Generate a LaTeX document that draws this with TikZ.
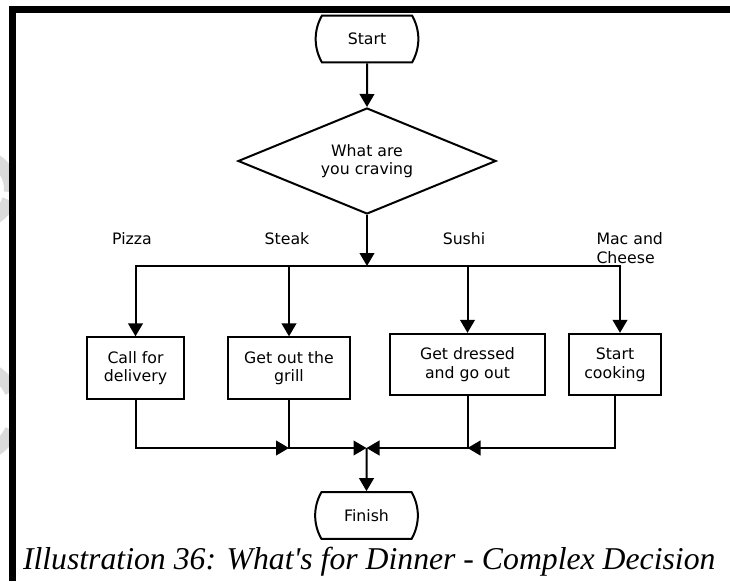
\documentclass[tikz,border=0pt]{standalone}
\usepackage{fontspec}
\setmainfont{DejaVu Sans}
\newfontfamily\captionserif{Liberation Serif}
\usetikzlibrary{arrows.meta,shapes.geometric,shapes.misc}

\begin{document}
\begin{tikzpicture}[x=0.75pt,y=-0.75pt,
  line width=1.5pt,
  flow/.style={-{Triangle[length=9.75pt,width=11pt]}},
  lbl/.style={font=\fontsize{11.8}{14}\selectfont, inner sep=0pt},
  terminal/.style={draw, rounded rectangle, rounded rectangle arc length=60,
    minimum width=77pt, minimum height=35pt, lbl},
  decision/.style={draw, diamond, shape aspect=2.43, minimum width=193.5pt,
    minimum height=79.5pt, align=center, lbl},
  process/.style={draw, rectangle, minimum height=46pt, align=center, lbl},
  choice/.style={lbl, align=left},
  wmark/.style={draw=black!14, line width=10.5pt},
]
% page background
\fill[white] (0,0) rectangle (730,581);
\useasboundingbox (0,0) rectangle (730,581);

% faint watermark letters peeking in at the left margin
\begin{scope}
  \clip (0,0) rectangle (12,581);
  \draw[wmark] (-22,189) ++(5:33) arc[start angle=5, end angle=-340, radius=33];
  \draw[wmark] (-30,411) ++(25:46) arc[start angle=25, end angle=335, radius=46];
\end{scope}

% page frame
\draw[line width=5.25pt] (12.5,581) -- (12.5,9.5) -- (730,9.5);

% nodes
\node[terminal] (start) at (367,39) {Start};
\node[decision] (crave) at (367,161) {What are\\you craving};

\node[process, minimum width=72.75pt] (pizza) at (135.5,368) {Call for\\delivery};
\node[process, minimum width=91.5pt]  (grill) at (289,368)   {Get out the\\grill};
\node[process, minimum width=116pt]   (out)   at (467.5,364.5) {Get dressed\\and go out};
\node[process, minimum width=69pt]    (cook)  at (615,364.5) {Start\\cooking};

\node[terminal] (finish) at (366.5,515.5) {Finish};

% branch labels
\node[choice] (lpizza) at (132,239) {Pizza};
\node[choice] (lsteak) at (287,239) {Steak};
\node[choice] (lsushi) at (464,239) {Sushi};
\node[choice, anchor=west] (lmac) at (595.5,248) {Mac and\\Cheese};

% junctions
\coordinate (split) at (367,266);
\coordinate (merge) at (366.5,448);

% connectors
\draw[flow] (start) -- (crave);
\draw[flow] (crave) -- (split);
\draw[flow] (split) -| (pizza);
\draw[flow] (split) -| (grill);
\draw[flow] (split) -| (out);
\draw[flow] (split) -| ([xshift=3.75pt]cook.north);

\draw[flow] (pizza) |- (grill.south |- merge);
\draw[flow] (grill) |- (merge);
\draw[flow] (cook) |- (out.south |- merge);
\draw[flow] (out) |- (merge);
\draw[flow] (merge) -- (finish);

% caption
\node[anchor=base west, inner sep=0pt,
  font=\captionserif\itshape\fontsize{23.8}{28}\selectfont] (cap) at (22,569)
  {Illustration 36: What's for Dinner - Complex Decision};
\end{tikzpicture}
\end{document}
